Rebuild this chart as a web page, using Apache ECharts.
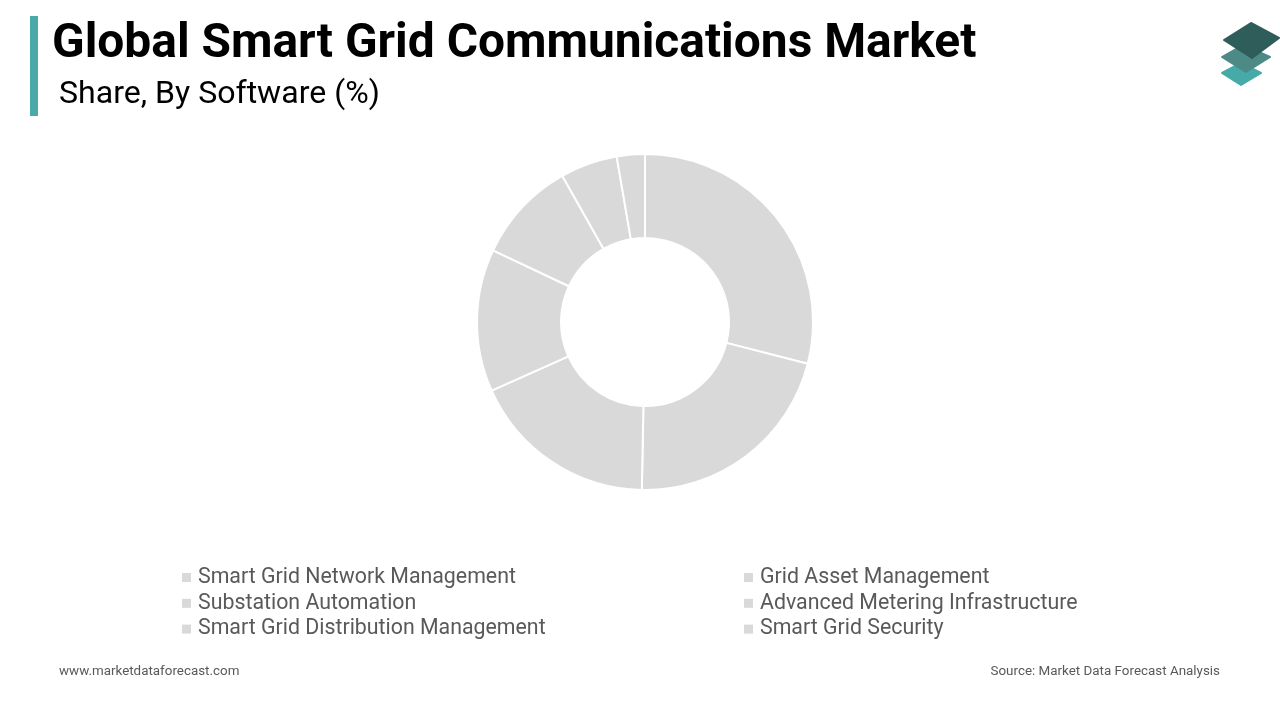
<!DOCTYPE html>
<html>
<head>
<meta charset="utf-8">
<title>Global Smart Grid Communications Market</title>
<script src="https://cdn.jsdelivr.net/npm/echarts@6/dist/echarts.min.js"></script>
<style>
html, body { margin: 0; padding: 0; background: #fff; }
#chart { width: 1280px; height: 720px; }
</style>
</head>
<body>
<div id="chart"></div>
<script>
// the picture has 7 slices but only 6 legend entries
var categories = ['Smart Grid Network Management', 'Grid Asset Management', 'Substation Automation',
    'Advanced Metering Infrastructure', 'Smart Grid Distribution Management', 'Smart Grid Security', 'Others'];
var shares = [29, 21.3, 18, 13.7, 9.8, 5.5, 2.7];
var leftLegend = ['Smart Grid Network Management', 'Substation Automation', 'Smart Grid Distribution Management'];
var rightLegend = ['Grid Asset Management', 'Advanced Metering Infrastructure', 'Smart Grid Security'];

var FONT = 'Roboto';
var GREY = '#d9d9d9';

function legendAt(left, names) {
    return {
        orient: 'vertical',
        left: left,
        top: 562,
        itemWidth: 9,
        itemHeight: 9,
        itemGap: 4.8,
        selectedMode: false,
        icon: 'rect',
        itemStyle: { borderWidth: 0 },
        data: names,
        textStyle: { fontFamily: FONT, fontSize: 21.33, color: '#595959', padding: [0, 0, 0, 2], lineHeight: 20 }
    };
}

function logoPiece(points, fill, z) {
    return {
        type: 'polygon', z: z, shape: { points: points },
        style: { fill: fill, stroke: fill, lineWidth: 2, lineJoin: 'round' }
    };
}

var chart = echarts.init(document.getElementById('chart'));

chart.setOption({
    backgroundColor: '#fff',
    animation: false,
    title: [
        { text: 'Global Smart Grid Communications Market', left: 47, top: 16,
          textStyle: { fontFamily: FONT, fontSize: 47.9, fontWeight: 700, color: '#000' } },
        { text: 'Share, By Software (%)', left: 54, top: 74,
          textStyle: { fontFamily: FONT, fontSize: 32.1, fontWeight: 400, color: '#000' } },
        { text: 'www.marketdataforecast.com', left: 54, top: 660,
          textStyle: { fontFamily: FONT, fontSize: 13.4, fontWeight: 400, color: '#595959' } },
        { text: 'Source: Market Data Forecast Analysis', right: 55, top: 660,
          textStyle: { fontFamily: FONT, fontSize: 13.4, fontWeight: 400, color: '#595959' } }
    ],
    legend: [legendAt(177, leftLegend), legendAt(739, rightLegend)],
    series: [{
        type: 'pie',
        center: [645, 322],
        radius: [84, 168],
        startAngle: 90,
        silent: true,
        label: { show: false },
        labelLine: { show: false },
        itemStyle: { color: GREY, borderColor: '#fff', borderWidth: 2 },
        data: categories.map(function (name, i) {
            return { name: name, value: shares[i] };
        })
    }],
    graphic: [
        { type: 'rect', shape: { x: 30, y: 16, width: 8, height: 100 }, style: { fill: '#4aa9a9' } },
        // logo, three stacked diamonds
        logoPiece([[1222, 73], [1241, 63], [1261, 73], [1241, 85]], '#46aaa8', 1),
        logoPiece([[1222, 57], [1243, 45], [1270, 57], [1246, 72]], '#4d8a87', 2),
        logoPiece([[1224, 40], [1251, 23], [1279, 38], [1252, 58]], '#2f5d5a', 3)
    ]
});
</script>
</body>
</html>
